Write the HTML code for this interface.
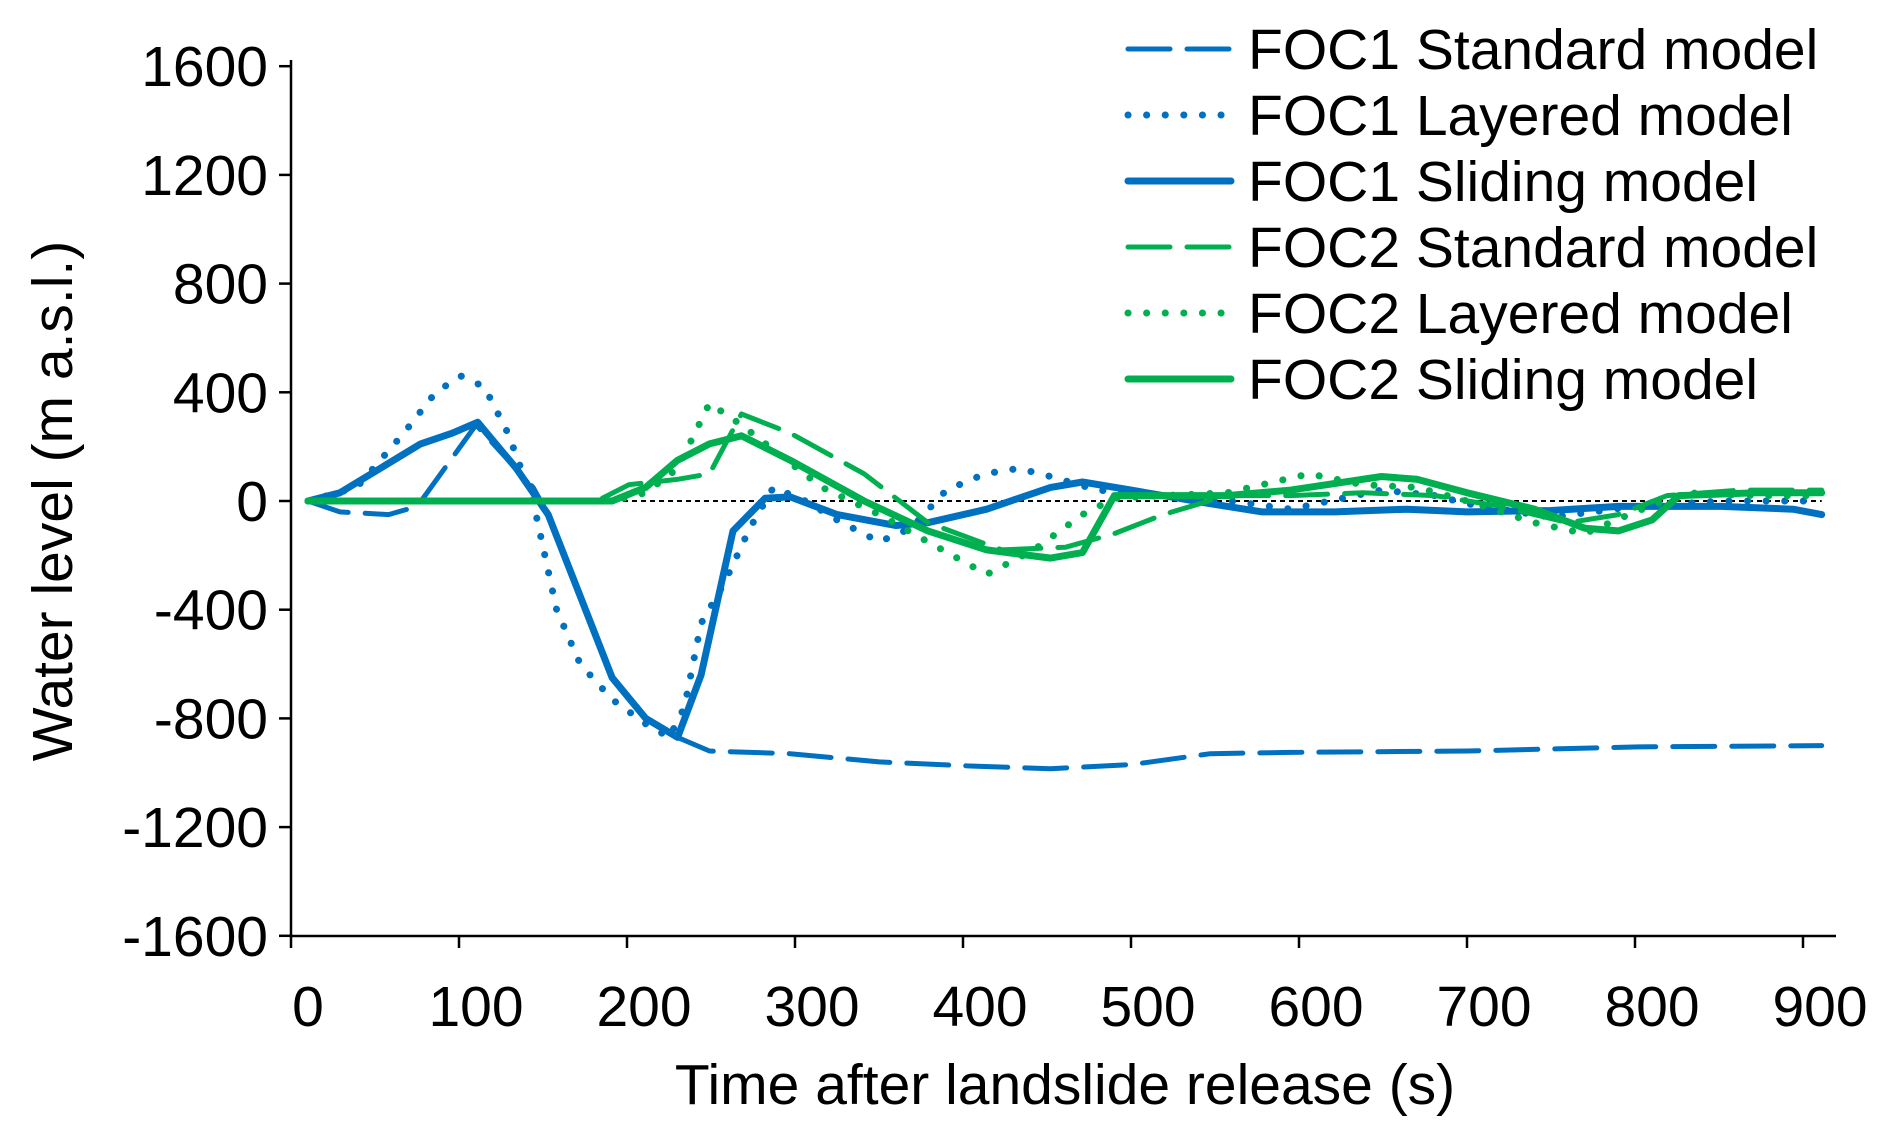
<!DOCTYPE html>
<html><head><meta charset="utf-8"><style>
body{margin:0;background:#fff;}
svg text{font-family:"Liberation Sans",Arial,sans-serif;fill:#000;}
</style></head><body>
<svg id="chart" width="1892" height="1139" viewBox="0 0 1892 1139" xmlns="http://www.w3.org/2000/svg">
<g id="axes"></g>
<g id="series"></g>
<g id="legend"></g>
</svg>
<script>
const xTicks=[0,100,200,300,400,500,600,700,800,900];
const yTicks=[1600,1200,800,400,0,-400,-800,-1200,-1600];
const t1s=[0,19,48,65,100,134,143,162,181,201,220,239,287,340,394,442,490,537,585,690,792,901];
const v1s=[0,-40,-50,-20,280,50,-50,-350,-650,-800,-870,-920,-930,-960,-975,-985,-970,-930,-925,-920,-905,-900];
const t1l=[0,29,57,76,91,105,119,134,148,162,181,201,215,224,234,248,263,277,296,315,340,359,380,403,423,442,470,509,537,585,639,671,690,740,790,841,901];
const v1l=[0,50,250,400,460,420,250,0,-400,-600,-730,-820,-870,-760,-450,-300,-100,50,0,-70,-150,-100,40,100,120,90,40,20,10,-30,40,20,-10,-60,-20,0,0];
const t1d=[0,19,67,86,101,124,143,162,181,201,220,234,253,272,287,315,350,369,404,442,461,490,537,568,611,654,690,740,780,841,884,901];
const v1d=[0,30,210,250,290,120,-50,-350,-650,-800,-870,-640,-110,10,15,-50,-90,-80,-30,50,70,40,-10,-40,-40,-30,-40,-35,-20,-20,-30,-50];
const t2s=[0,172,191,220,239,258,287,331,369,413,451,480,509,547,585,628,671,710,750,780,809,852,901];
const v2s=[0,0,60,80,100,320,250,100,-80,-180,-170,-120,-50,20,20,30,20,-20,-80,-50,20,40,40];
const t2l=[0,181,201,220,239,258,287,306,340,369,404,432,461,480,509,547,596,628,660,690,730,760,790,820,862,901];
const v2l=[0,0,30,120,360,280,140,50,-50,-150,-270,-180,-50,10,20,30,100,60,50,0,-80,-120,-40,30,20,20];
const t2d=[0,181,201,220,239,258,287,331,369,404,442,461,480,509,547,585,639,660,690,730,760,780,800,816,862,901];
const v2d=[0,0,50,150,210,240,150,0,-110,-180,-210,-190,20,20,20,40,90,80,30,-30,-100,-110,-70,20,30,30];
const legendLabels=["FOC1 Standard model","FOC1 Layered model","FOC1 Sliding model","FOC2 Standard model","FOC2 Layered model","FOC2 Sliding model"];

const NS="http://www.w3.org/2000/svg";
const X=t=>308+1.68*t;
const Y=v=>501-v*(108.7/400);
function mk(tag,attrs,parent){const e=document.createElementNS(NS,tag);for(const k in attrs)e.setAttribute(k,attrs[k]);parent.appendChild(e);return e;}
const axes=document.getElementById('axes');
let e=mk('line',{x1:291,y1:60,x2:291,y2:936,stroke:'#000','stroke-width':2.5},axes);


e=mk('line',{x1:291,y1:936,x2:1836,y2:936,stroke:'#000','stroke-width':2.5},axes);


yTicks.forEach(v=>{
  mk('line',{x1:279,y1:Y(v),x2:291,y2:Y(v),stroke:'#000','stroke-width':2.5},axes);
  const t=mk('text',{x:268,y:Y(v)+20,'text-anchor':'end','font-size':57},axes);
  t.textContent=v;
  
  
});
xTicks.forEach((v,i)=>{
  const tx=291+168*i;
  mk('line',{x1:tx,y1:936,x2:tx,y2:948,stroke:'#000','stroke-width':2.5},axes);
  const t=mk('text',{x:X(v),y:1026,'text-anchor':'middle','font-size':57},axes);
  t.textContent=v;
  
  
});
e=mk('text',{x:1065,y:1104,'text-anchor':'middle','font-size':57},axes);
e.textContent='Time after landslide release (s)';


e=mk('text',{x:0,y:0,'text-anchor':'middle','font-size':57,transform:'translate(72,501) rotate(-90)'},axes);
e.textContent='Water level (m a.s.l.)';


e=mk('line',{x1:X(0),y1:Y(0),x2:X(901),y2:Y(0),stroke:'#000','stroke-width':2,'stroke-dasharray':'5,4'},axes);



const BLUE='#0070C0',GREEN='#00B050';
const styles={
  dash:{w:5,da:'42,17',cap:'round'},
  dot:{w:7,da:'0.1,18.5',cap:'round'},
  solid:{w:7,da:'',cap:'round'}
};
const series=[
  [t1s,v1s,BLUE,'dash','foc1-standard-line'],
  [t1l,v1l,BLUE,'dot','foc1-layered-line'],
  [t1d,v1d,BLUE,'solid','foc1-sliding-line'],
  [t2s,v2s,GREEN,'dash','foc2-standard-line'],
  [t2l,v2l,GREEN,'dot','foc2-layered-line'],
  [t2d,v2d,GREEN,'solid','foc2-sliding-line']
];
const sg=document.getElementById('series');
const lg=document.getElementById('legend');
series.forEach((s,i)=>{
  const st=styles[s[3]];
  const pts=s[0].map((t,j)=>X(t).toFixed(1)+','+Y(s[1][j]).toFixed(1)).join(' ');
  const p=mk('polyline',{points:pts,fill:'none',stroke:s[2],'stroke-width':st.w,'stroke-linecap':st.cap,'stroke-linejoin':'round'},sg);
  if(st.da)p.setAttribute('stroke-dasharray',st.da);
  
  
  const ly=49+66*i;
  const g=mk('g',{},lg);
  
  
  const l=mk('line',{x1:1128,y1:ly,x2:1231,y2:ly,stroke:s[2],'stroke-width':st.w,'stroke-linecap':st.cap},g);
  if(st.da)l.setAttribute('stroke-dasharray',st.da);
  const tx=mk('text',{x:1248,y:ly+20,'font-size':57},g);
  tx.textContent=legendLabels[i];
});
</script>
</body></html>
